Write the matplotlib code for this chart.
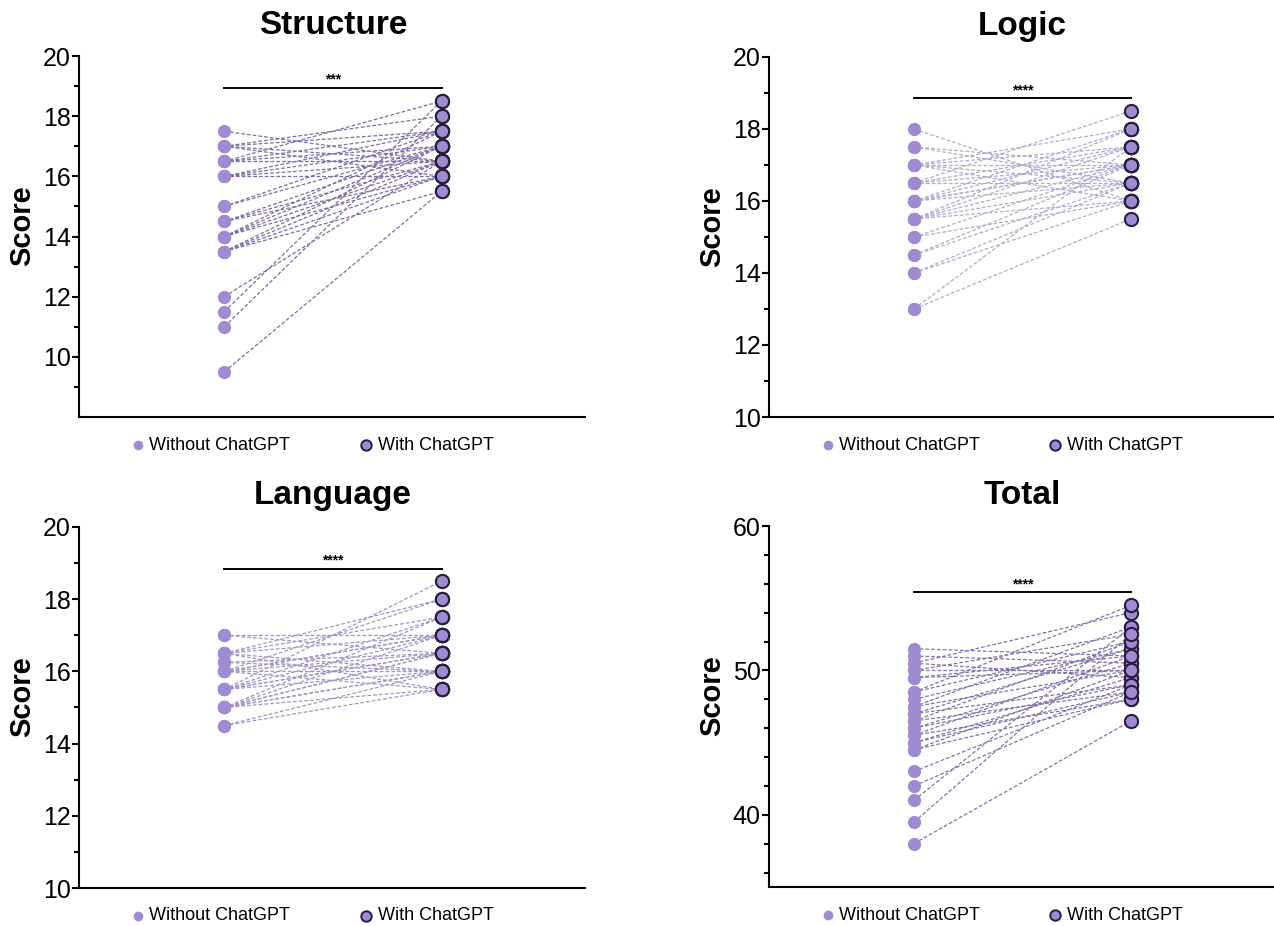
import matplotlib.pyplot as plt
from matplotlib.ticker import FixedLocator
import matplotlib.transforms as mtransforms

plt.rcParams['font.family'] = ['Liberation Sans', 'DejaVu Sans']

# scores per student: without / with ChatGPT
structure_without = [17.5, 17, 17, 17, 17, 16.5, 16.5, 16.5, 16.5, 16, 16, 16, 16, 15, 15,
                     14.5, 14.5, 14.5, 14, 14, 14, 14, 13.5, 13.5, 13.5, 13.5, 12, 11.5, 11, 9.5]
structure_with = [16.5, 17.5, 16, 18, 16.5, 17, 16.5, 18.5, 17.5, 17.5, 16.5, 17, 16, 17, 17.5,
                  16.5, 17, 16, 16.5, 17, 16, 17.5, 16.5, 16, 17, 15.5, 16.5, 18.5, 18, 15.5]

logic_without = [18, 17.5, 17.5, 17, 17, 17, 17, 16.5, 16.5, 16.5, 16.5, 16, 16, 16, 16,
                 15.5, 15.5, 15.5, 15.5, 15.5, 15, 15, 14.5, 14.5, 14, 14, 13, 13, 16, 17]
logic_with = [16, 17, 16.5, 17.5, 16, 18, 17, 18.5, 17, 16.5, 17.5, 17.5, 16.5, 18, 17,
              17, 16.5, 18, 16, 17.5, 16, 17, 16.5, 17, 16, 16.5, 17.5, 15.5, 17, 16.5]

language_without = [17, 17, 16.5, 16.5, 16.5, 16.5, 16.25, 16.25, 16, 16, 16, 16, 16, 15.5, 15.5,
                    15.5, 15.5, 15.5, 15, 15, 15, 15, 15, 15, 14.5, 14.5, 16.5, 16, 15.5, 15]
language_with = [17, 16.5, 17, 16, 15.5, 17.5, 16.5, 16, 16.5, 17, 16, 15.5, 18, 18.5, 17.5,
                 16.5, 16, 17, 16, 16.5, 17, 15.5, 17.5, 16.5, 16, 15.5, 18, 17, 16.5, 16]

total_without = [51.5, 51, 50.5, 50.5, 50, 50, 49.5, 48.5, 48.5, 48, 47.5, 47.5, 47, 47, 46.5,
                 46.5, 46, 46, 45.5, 45.5, 45, 45, 44.5, 44.5, 43, 42, 41, 39.5, 38, 49.5]
total_with = [51, 50.5, 54, 49.5, 50, 52.5, 51, 54.5, 52, 51.5, 50, 53, 49, 51.5, 48.5,
              52, 49, 50.5, 48, 51, 48.5, 49.5, 48, 50, 49, 48.5, 53, 52.5, 46.5, 50]

titles = ['Structure', 'Logic', 'Language', 'Total']
stars = ['***', '****', '****', '****']
bar_y = [18.95, 18.85, 18.85, 55.4]
ylims = [(8, 20), (10, 20), (10, 20), (35, 60)]
major_ticks = [[10, 12, 14, 16, 18, 20], [10, 12, 14, 16, 18, 20],
               [10, 12, 14, 16, 18, 20], [40, 50, 60]]
minor_ticks = [[9, 11, 13, 15, 17, 19], [11, 13, 15, 17, 19],
               [11, 13, 15, 17, 19], [36, 38, 42, 44, 46, 48, 52, 54, 56, 58]]
line_colors = ['#7f6ea3', '#b5a9cf', '#a395c4', '#8473ab']

W, H = 1274, 926
# axes boxes in pixels: left, top, right, bottom
boxes = [(79, 56, 585, 417), (769, 57, 1274, 417),
         (79, 527, 585, 888), (769, 526, 1274, 887)]

fill = '#a08ad1'
edge = '#2b1d40'

fig = plt.figure(figsize=(W / 100, H / 100), dpi=100)

data = [(structure_without, structure_with), (logic_without, logic_with),
        (language_without, language_with), (total_without, total_with)]

for i, (wo, wi) in enumerate(data):
    l, t, r, b = boxes[i]
    ax = fig.add_axes([l / W, 1 - b / H, (r - l) / W, (b - t) / H])
    hpx = b - t
    wpx = r - l

    for a, c in zip(wo, wi):
        ax.plot([0, 1], [a, c], color=line_colors[i], lw=0.9, dashes=(3, 1.6), zorder=1)
    ax.plot([0] * len(wo), wo, 'o', ms=9.5, color=fill, mec=fill, mew=0, zorder=3, clip_on=False)
    ax.plot([1] * len(wi), wi, 'o', ms=9.5, mfc=fill, mec=edge, mew=1.5, zorder=3, clip_on=False)

    # significance bar
    ax.plot([0, 1], [bar_y[i], bar_y[i]], color='black', lw=1.4, zorder=2)
    ax.annotate(stars[i], (0.5, bar_y[i]), xytext=(0, 1), textcoords='offset points',
                ha='center', va='bottom', fontsize=10, fontweight='bold')

    ax.set_xlim(-0.668, 1.66)
    ax.set_ylim(*ylims[i])
    ax.yaxis.set_major_locator(FixedLocator(major_ticks[i]))
    ax.yaxis.set_minor_locator(FixedLocator(minor_ticks[i]))
    ax.set_xticks([])
    for s in ['top', 'right']:
        ax.spines[s].set_visible(False)
    for s in ['left', 'bottom']:
        ax.spines[s].set_linewidth(1.5)
    ax.tick_params(axis='y', which='major', length=5, width=1.5, labelsize=18, pad=1)
    ax.tick_params(axis='y', which='minor', length=3.5, width=1.5)

    trans = mtransforms.blended_transform_factory(ax.transData, ax.transAxes)
    ax.text(0.5, 1 + 31 / hpx, titles[i], transform=trans, ha='center', va='center',
            fontsize=24, fontweight='bold')
    ax.text(-57 / wpx, 0.53, 'Score', transform=ax.transAxes, rotation=90,
            ha='center', va='center', fontsize=21, fontweight='bold')

    # legend below the axis
    ly = -28 / hpx
    ax.plot([0.117], [ly], 'o', ms=7, color=fill, mew=0, transform=ax.transAxes, clip_on=False)
    ax.text(0.138, ly, 'Without ChatGPT', transform=ax.transAxes, ha='left', va='center',
            fontsize=13)
    ax.plot([0.567], [ly], 'o', ms=7.5, mfc=fill, mec=edge, mew=1.4,
            transform=ax.transAxes, clip_on=False)
    ax.text(0.590, ly, 'With ChatGPT', transform=ax.transAxes, ha='left', va='center',
            fontsize=13)

fig.savefig('out.png', dpi=100)
